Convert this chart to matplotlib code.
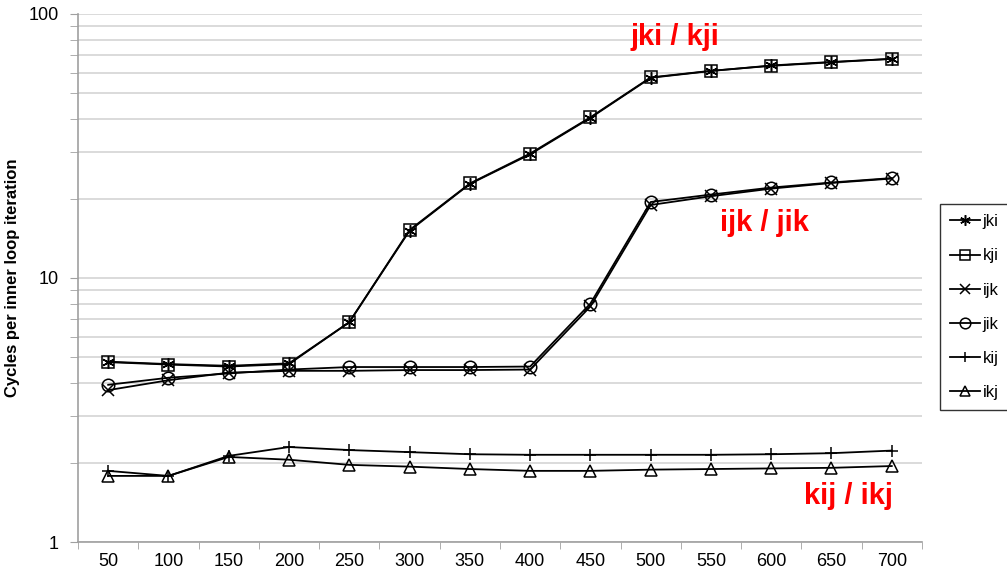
import numpy as np
import matplotlib
matplotlib.use("Agg")
import matplotlib.pyplot as plt
from matplotlib.ticker import FixedLocator, NullFormatter, LogLocator

plt.rcParams['font.family'] = ['Liberation Sans', 'DejaVu Sans']

sizes = [50, 100, 150, 200, 250, 300, 350, 400, 450, 500, 550, 600, 650, 700]

jki = [4.82, 4.72, 4.65, 4.75, 6.8, 15.1, 22.7, 29.4, 40.4, 57.3, 60.8, 63.8, 65.8, 67.6]
kji = [4.80, 4.70, 4.62, 4.72, 6.8, 15.2, 22.8, 29.6, 40.6, 57.5, 60.9, 63.6, 65.6, 67.6]
ijk = [3.76, 4.10, 4.38, 4.45, 4.45, 4.48, 4.48, 4.50, 7.8, 18.9, 20.4, 21.8, 22.9, 23.8]
jik = [3.94, 4.19, 4.35, 4.50, 4.60, 4.60, 4.60, 4.62, 8.0, 19.4, 20.7, 22.0, 23.0, 23.9]
kij = [1.86, 1.78, 2.12, 2.29, 2.23, 2.19, 2.15, 2.14, 2.14, 2.14, 2.14, 2.15, 2.17, 2.22]
ikj = [1.78, 1.78, 2.10, 2.05, 1.96, 1.93, 1.89, 1.86, 1.86, 1.88, 1.89, 1.90, 1.91, 1.94]

series = [
    ("jki", jki, (6, 2, 0)),
    ("kji", kji, "s"),
    ("ijk", ijk, "x"),
    ("jik", jik, "o"),
    ("kij", kij, "+"),
    ("ikj", ikj, "^"),
]

fig = plt.figure(figsize=(10.07, 5.74), dpi=100)
ax = fig.add_axes([0.0775, 0.0557, 0.838, 0.92])

xs = np.arange(len(sizes))
for name, vals, mk in series:
    ax.plot(xs, vals, color="black", lw=1.3, marker=mk, markersize=9,
            markerfacecolor="none", markeredgecolor="black", markeredgewidth=1.1,
            label=name)

ax.set_yscale("log")
ax.set_ylim(1, 100)
ax.set_xlim(-0.5, len(sizes) - 0.5)

ax.yaxis.set_major_locator(FixedLocator([1, 10, 100]))
ax.yaxis.set_major_formatter(plt.FuncFormatter(lambda v, p: "%d" % v))
ax.yaxis.set_minor_locator(LogLocator(base=10, subs=np.arange(2, 10)))
ax.yaxis.set_minor_formatter(NullFormatter())
ax.grid(True, which="both", axis="y", color="#d4d4d4", lw=1.2)
ax.set_axisbelow(True)

ax.set_xticks(xs)
ax.set_xticklabels([str(s) for s in sizes])
ax.set_xticks(np.arange(-0.5, len(sizes)), minor=True)
ax.tick_params(axis="x", which="major", length=0, labelsize=13, pad=8)
ax.tick_params(axis="x", which="minor", length=5, color="#a0a0a0", direction="out")
ax.tick_params(axis="y", which="major", length=6, color="#a0a0a0", labelsize=13, pad=8)
ax.tick_params(axis="y", which="minor", length=6, color="#a0a0a0")

for s in ["top", "right"]:
    ax.spines[s].set_visible(False)
for s in ["left", "bottom"]:
    ax.spines[s].set_color("#a0a0a0")
    ax.spines[s].set_linewidth(1.2)

ax.set_ylabel("Cycles per inner loop iteration", fontsize=12, fontweight="bold", labelpad=6)

ax.text(9.4, 81.8, "jki / kji", color="red", fontsize=21, fontweight="bold", ha="center", va="center")
ax.text(10.88, 16.2, "ijk / jik", color="red", fontsize=21, fontweight="bold", ha="center", va="center")
ax.text(12.28, 1.49, "kij / ikj", color="red", fontsize=21, fontweight="bold", ha="center", va="center")

leg = fig.legend(loc="center left", bbox_to_anchor=(0.933, 0.465), fontsize=12,
                 frameon=True, fancybox=False, edgecolor="black", handlelength=1.8,
                 handletextpad=0.2, labelspacing=1.15, borderpad=0.6, borderaxespad=0,
                 markerscale=0.85)
leg.get_frame().set_linewidth(1.0)

fig.savefig("out.png", dpi=100)
